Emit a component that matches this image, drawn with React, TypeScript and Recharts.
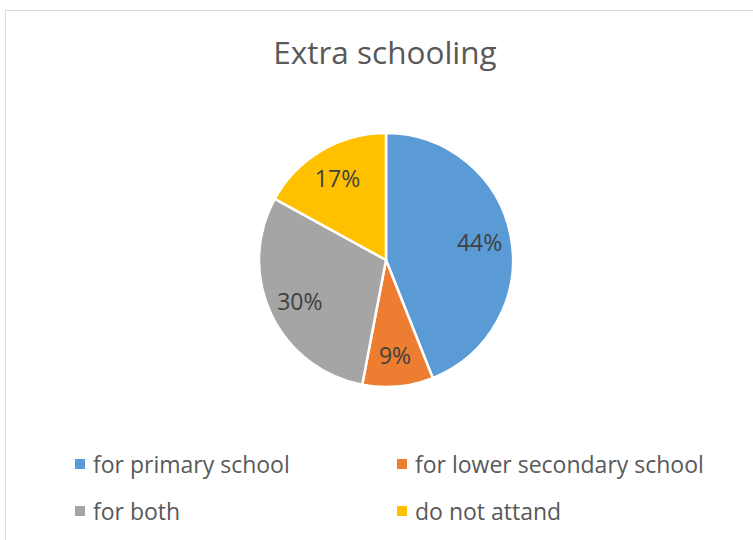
import React from 'react';
import { PieChart, Pie, Cell, Legend } from 'recharts';

const categories = ['for primary school', 'for lower secondary school', 'for both', 'do not attand'];
const values = [44, 9, 30, 17];
const colors = ['#5B9BD5', '#ED7D31', '#A5A5A5', '#FFC000'];

const data = categories.map((name, i) => ({ name, value: values[i] }));
const total = values.reduce((a, b) => a + b, 0);

const RAD = Math.PI / 180;
const renderLabel = (props: any) => {
  const { cx, cy, midAngle, outerRadius, value } = props;
  const r = outerRadius * 0.75;
  const x = cx + r * Math.cos(-midAngle * RAD);
  const y = cy + r * Math.sin(-midAngle * RAD);
  return (
    <text x={x} y={y} fill="#404040" fontSize={23} fontFamily="'Open Sans', sans-serif" textAnchor="middle" dominantBaseline="central">
      {Math.round((value / total) * 100)}%
    </text>
  );
};

const LegendContent = () => {
  const pos = [
    { left: 75, top: 450 },
    { left: 397, top: 450 },
    { left: 75, top: 497 },
    { left: 397, top: 497 },
  ];
  return (
    <div style={{ position: 'relative', width: 753, height: 540 }}>
      {categories.map((c, i) => (
        <div key={c} style={{ position: 'absolute', left: pos[i].left, top: pos[i].top, display: 'flex', alignItems: 'center', height: 28 }}>
          <span style={{ display: 'inline-block', width: 10, height: 10, background: colors[i], marginRight: 8 }} />
          <span style={{ fontFamily: "'Open Sans', sans-serif", fontSize: 23, lineHeight: '28px', color: '#595959', whiteSpace: 'nowrap' }}>{c}</span>
        </div>
      ))}
    </div>
  );
};

export default function App() {
  return (
    <div style={{ position: 'absolute', left: 0, top: 0, width: 753, height: 540, background: '#fff', overflow: 'hidden' }}>
      <div style={{ position: 'absolute', left: 5, top: 10, width: 800, height: 600, border: '1px solid #d9d9d9', boxSizing: 'border-box' }} />
      <div style={{ position: 'absolute', left: 0, top: 36, width: 770, textAlign: 'center', fontFamily: "'Open Sans', sans-serif", fontSize: 31.5, lineHeight: '31px', color: '#595959', fontWeight: 400 }}>
        Extra schooling
      </div>
      <PieChart width={753} height={540} style={{ position: 'absolute', left: 0, top: 0 }}>
        <Pie
          data={data}
          dataKey="value"
          nameKey="name"
          cx={381}
          cy={255}
          outerRadius={127}
          startAngle={90}
          endAngle={-270}
          stroke="#ffffff"
          strokeWidth={2.5}
          label={renderLabel}
          labelLine={false}
          isAnimationActive={false}
        >
          {data.map((d, i) => (
            <Cell key={d.name} fill={colors[i]} />
          ))}
        </Pie>
        <Legend content={<LegendContent />} wrapperStyle={{ position: 'absolute', left: 0, top: 0, width: 753, height: 540 }} />
      </PieChart>
    </div>
  );
}
